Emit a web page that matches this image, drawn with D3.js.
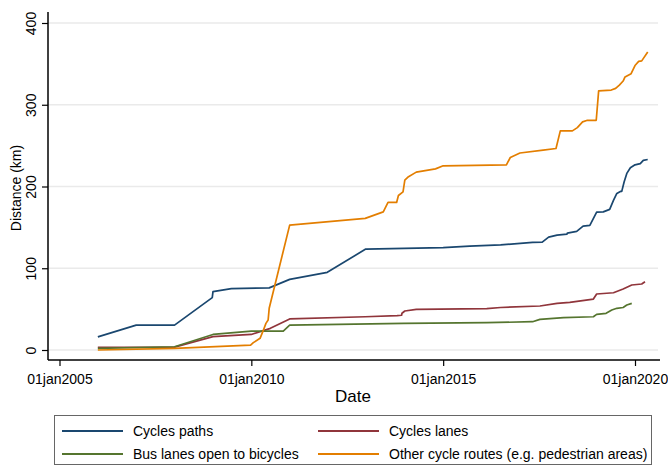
<!DOCTYPE html>
<html>
<head>
<meta charset="utf-8">
<script src="https://cdn.jsdelivr.net/npm/d3@7"></script>
<style>
  body { margin: 0; background: #fff; }
  text { font-family: "Liberation Sans", Arial, sans-serif; fill: #000; }
</style>
</head>
<body>
<svg id="chart" width="668" height="466"></svg>
<script>
// cumulative distance (km) by date
const cyclePaths = [
  ["2006-01-01", 16], ["2007-01-01", 30.5], ["2008-01-01", 30.5], ["2008-12-25", 64],
  ["2009-01-01", 71.5], ["2009-06-25", 75], ["2010-06-20", 76], ["2011-01-01", 86.4],
  ["2011-12-25", 95], ["2012-12-25", 123.5], ["2015-01-01", 125.3], ["2015-09-10", 127],
  ["2016-07-01", 128.5], ["2017-05-01", 131.6], ["2017-08-01", 132], ["2017-10-01", 138],
  ["2017-12-20", 140.6], ["2018-03-25", 141.8], ["2018-03-28", 143], ["2018-06-25", 145],
  ["2018-08-25", 151.6], ["2018-10-28", 152.4], ["2019-01-01", 168.7], ["2019-03-05", 169],
  ["2019-05-05", 172], ["2019-06-10", 183], ["2019-07-12", 191.5], ["2019-08-15", 194],
  ["2019-08-28", 194], ["2019-09-20", 205.8], ["2019-10-15", 216], ["2019-11-18", 223],
  ["2020-01-01", 226.5], ["2020-02-20", 228], ["2020-03-20", 232], ["2020-05-01", 233]
];
const cycleLanes = [
  ["2006-01-01", 3.3], ["2008-01-01", 3.5], ["2009-01-01", 16.3], ["2010-01-01", 19],
  ["2010-07-01", 26.5], ["2011-01-01", 38], ["2012-12-20", 40.7], ["2013-10-20", 42],
  ["2013-12-01", 42.5], ["2013-12-05", 45], ["2014-01-01", 47.7], ["2014-04-20", 49.7],
  ["2016-02-20", 50.5], ["2016-07-01", 52], ["2017-07-10", 53.8], ["2017-12-20", 57],
  ["2018-04-20", 58.3], ["2018-12-01", 62.3], ["2019-01-01", 68.5], ["2019-06-10", 70],
  ["2019-09-10", 74.6], ["2019-12-01", 79.5], ["2020-03-05", 80.7], ["2020-04-05", 83.5]
];
const busLanes = [
  ["2006-01-01", 2], ["2008-01-01", 4], ["2009-01-01", 19], ["2010-01-01", 23],
  ["2010-11-01", 23.2], ["2011-01-01", 30.5], ["2013-12-20", 32.6], ["2016-02-20", 33.4],
  ["2017-05-01", 34.6], ["2017-07-10", 37.5], ["2018-02-20", 39.5], ["2018-12-01", 40.7],
  ["2019-01-01", 43.6], ["2019-04-01", 44.9], ["2019-05-25", 48.9], ["2019-07-12", 51],
  ["2019-09-10", 52], ["2019-10-15", 55], ["2019-12-01", 57]
];
const otherRoutes = [
  ["2006-01-01", 0], ["2008-01-01", 2], ["2009-12-25", 6], ["2010-01-20", 9],
  ["2010-03-25", 14.3], ["2010-04-20", 22.4], ["2010-05-20", 32.6], ["2010-06-10", 36.7],
  ["2010-06-20", 51], ["2011-01-01", 152.8], ["2012-12-20", 161], ["2013-06-10", 169],
  ["2013-07-25", 180.5], ["2013-10-15", 180.5], ["2013-11-01", 189], ["2013-12-15", 193.5],
  ["2014-01-01", 207.8], ["2014-02-05", 212], ["2014-04-20", 217.6], ["2014-10-20", 221.6],
  ["2015-01-01", 225.3], ["2016-08-25", 226.5], ["2016-10-01", 235.5], ["2017-01-01", 241],
  ["2017-08-10", 244.5], ["2017-12-10", 246.5], ["2018-01-20", 268], ["2018-05-15", 268],
  ["2018-07-01", 272], ["2018-08-20", 279], ["2018-10-05", 281], ["2018-12-28", 281],
  ["2019-01-20", 317], ["2019-05-20", 318], ["2019-07-01", 320], ["2019-08-05", 324],
  ["2019-09-10", 329], ["2019-09-28", 334], ["2019-11-25", 338], ["2020-01-01", 348],
  ["2020-02-05", 353], ["2020-03-05", 353.7], ["2020-05-01", 364.6]
];

const seriesNames = ["Cycles paths", "Cycles lanes", "Bus lanes open to bicycles",
  "Other cycle routes (e.g. pedestrian areas)"];
const seriesColors = ["#1a476f", "#90353b", "#55752f", "#e37e00"];
const seriesData = [cyclePaths, cycleLanes, busLanes, otherRoutes];

const xTickDates = ["2005-01-01", "2010-01-01", "2015-01-01", "2020-01-01"];
const xTickLabels = ["01jan2005", "01jan2010", "01jan2015", "01jan2020"];
const yTicks = [0, 100, 200, 300, 400];

const parse = d3.timeParse("%Y-%m-%d");
const svg = d3.select("#chart");

const left = 48, right = 658, axisY = 360;

const x = d3.scaleTime()
  .domain([parse("2005-01-01"), parse("2020-01-01")])
  .range([59.5, 635]);
const y = d3.scaleLinear().domain([0, 400]).range([350, 23]);

// gridlines
svg.append("g")
  .selectAll("line")
  .data(yTicks)
  .join("line")
  .attr("x1", left).attr("x2", right)
  .attr("y1", d => y(d)).attr("y2", d => y(d))
  .attr("stroke", "#eaeaea")
  .attr("stroke-width", 1.6);

// y axis
const yAxis = svg.append("g")
  .attr("transform", `translate(${left},0)`)
  .call(d3.axisLeft(y).tickValues(yTicks).tickSize(6).tickFormat(d3.format("d")));
yAxis.select(".domain").remove();
yAxis.selectAll(".tick line").attr("stroke", "#000").attr("stroke-width", 1.2);
yAxis.selectAll(".tick text")
  .attr("x", 0).attr("dy", 0)
  .attr("transform", "translate(-12,0) rotate(-90)")
  .attr("text-anchor", "middle")
  .style("font-size", "14px")
  .style("font-family", "Liberation Sans, Arial, sans-serif");
svg.append("line")
  .attr("x1", left).attr("x2", left).attr("y1", 12).attr("y2", axisY)
  .attr("stroke", "#000").attr("stroke-width", 1.5);

// x axis
const xAxis = svg.append("g")
  .attr("transform", `translate(0,${axisY})`)
  .call(d3.axisBottom(x).tickValues(xTickDates.map(parse)).tickSize(6)
    .tickFormat((d, i) => xTickLabels[i]));
xAxis.select(".domain").remove();
xAxis.selectAll(".tick line").attr("stroke", "#000").attr("stroke-width", 1.2);
xAxis.selectAll(".tick text")
  .attr("y", 14)
  .style("font-size", "14px")
  .style("font-family", "Liberation Sans, Arial, sans-serif");
svg.append("line")
  .attr("x1", left).attr("x2", right + 2).attr("y1", axisY).attr("y2", axisY)
  .attr("stroke", "#000").attr("stroke-width", 1.5);

// axis titles
svg.append("text")
  .attr("transform", "translate(21,188) rotate(-90)")
  .attr("text-anchor", "middle")
  .style("font-size", "14px")
  .text("Distance (km)");
svg.append("text")
  .attr("x", 353).attr("y", 402)
  .attr("text-anchor", "middle")
  .style("font-size", "17px")
  .text("Date");

// lines
const line = d3.line()
  .x(d => x(parse(d[0])))
  .y(d => y(d[1]));

svg.append("g")
  .selectAll("path")
  .data(seriesData)
  .join("path")
  .attr("d", d => line(d))
  .attr("fill", "none")
  .attr("stroke", (d, i) => seriesColors[i])
  .attr("stroke-width", 1.7)
  .attr("stroke-linejoin", "round");

// legend
svg.append("rect")
  .attr("x", 54.5).attr("y", 415.5).attr("width", 597).attr("height", 49)
  .attr("fill", "#fff").attr("stroke", "#666").attr("stroke-width", 1);

const legend = svg.append("g")
  .selectAll("g")
  .data(seriesNames)
  .join("g")
  .attr("transform", (d, i) => `translate(${i % 2 ? 318 : 62},${i < 2 ? 431 : 454})`);
legend.append("line")
  .attr("x1", 0).attr("x2", 61)
  .attr("stroke", (d, i) => seriesColors[i])
  .attr("stroke-width", 2);
legend.append("text")
  .attr("x", 71).attr("dy", "0.35em")
  .style("font-size", "14px")
  .text(d => d);
</script>
</body>
</html>
